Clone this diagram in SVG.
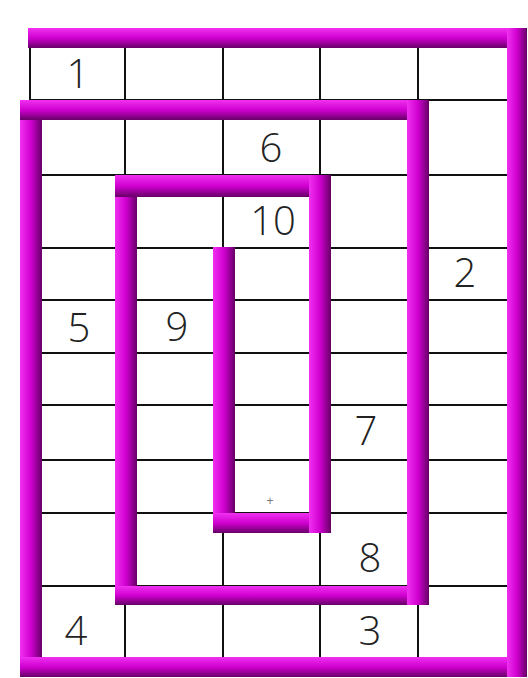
<svg xmlns="http://www.w3.org/2000/svg" width="528" height="678" viewBox="0 0 528 678">
<defs>
<linearGradient id="gh" x1="0" y1="0" x2="0" y2="1">
<stop offset="0" stop-color="#f030f0"/>
<stop offset="0.5" stop-color="#d000d0"/>
<stop offset="1" stop-color="#660066"/>
</linearGradient>
<linearGradient id="gv" x1="0" y1="0" x2="1" y2="0">
<stop offset="0" stop-color="#f030f0"/>
<stop offset="0.5" stop-color="#d000d0"/>
<stop offset="1" stop-color="#660066"/>
</linearGradient>
</defs>
<style>
.g{stroke:#111;stroke-width:2;fill:none}
.h{fill:url(#gh)}
.v{fill:url(#gv)}
.t{font-family:"Open Sans","Liberation Sans",Arial,sans-serif;font-weight:300;font-size:40px;fill:#222;text-anchor:middle}
</style>
<rect width="528" height="678" fill="#fff"/>
<g id="grid">
<path class="g" d="M30,48V100M125,48V657M223,48V657M320,48V657M418,48V657M30,175H507M30,248H507M30,300H507M30,353H507M30,405H507M30,460H507M30,513H507M30,586H507M30,100H507"/>
</g>
<g id="spiral">
<rect class="v" x="20" y="100" width="22" height="577"/>
<rect class="v" x="115" y="175" width="22" height="430"/>
<rect class="v" x="213" y="247" width="22" height="286"/>
<rect class="h" x="28" y="28" width="499" height="20"/>
<rect class="h" x="20" y="657" width="507" height="20"/>
<rect class="h" x="20" y="100" width="409" height="20"/>
<rect class="h" x="115" y="586" width="314" height="19"/>
<rect class="h" x="115" y="175" width="216" height="22"/>
<rect class="h" x="213" y="513" width="118" height="20"/>
<rect class="v" x="507" y="28" width="20" height="649"/>
<rect class="v" x="407" y="100" width="22" height="505"/>
<rect class="v" x="309" y="175" width="22" height="358"/>
</g>
<g id="labels">
<text class="t" x="78" y="88">1</text>
<text class="t" x="465" y="287">2</text>
<text class="t" x="370" y="645">3</text>
<text class="t" x="76" y="645">4</text>
<text class="t" x="79" y="342">5</text>
<text class="t" x="271" y="162">6</text>
<text class="t" x="366" y="445">7</text>
<text class="t" x="370" y="572">8</text>
<text class="t" x="177" y="341">9</text>
<text class="t" x="273" y="235">10</text>
<text x="270" y="505" font-family="Liberation Sans, sans-serif" font-size="12" fill="#777" text-anchor="middle">+</text>
</g>
</svg>
